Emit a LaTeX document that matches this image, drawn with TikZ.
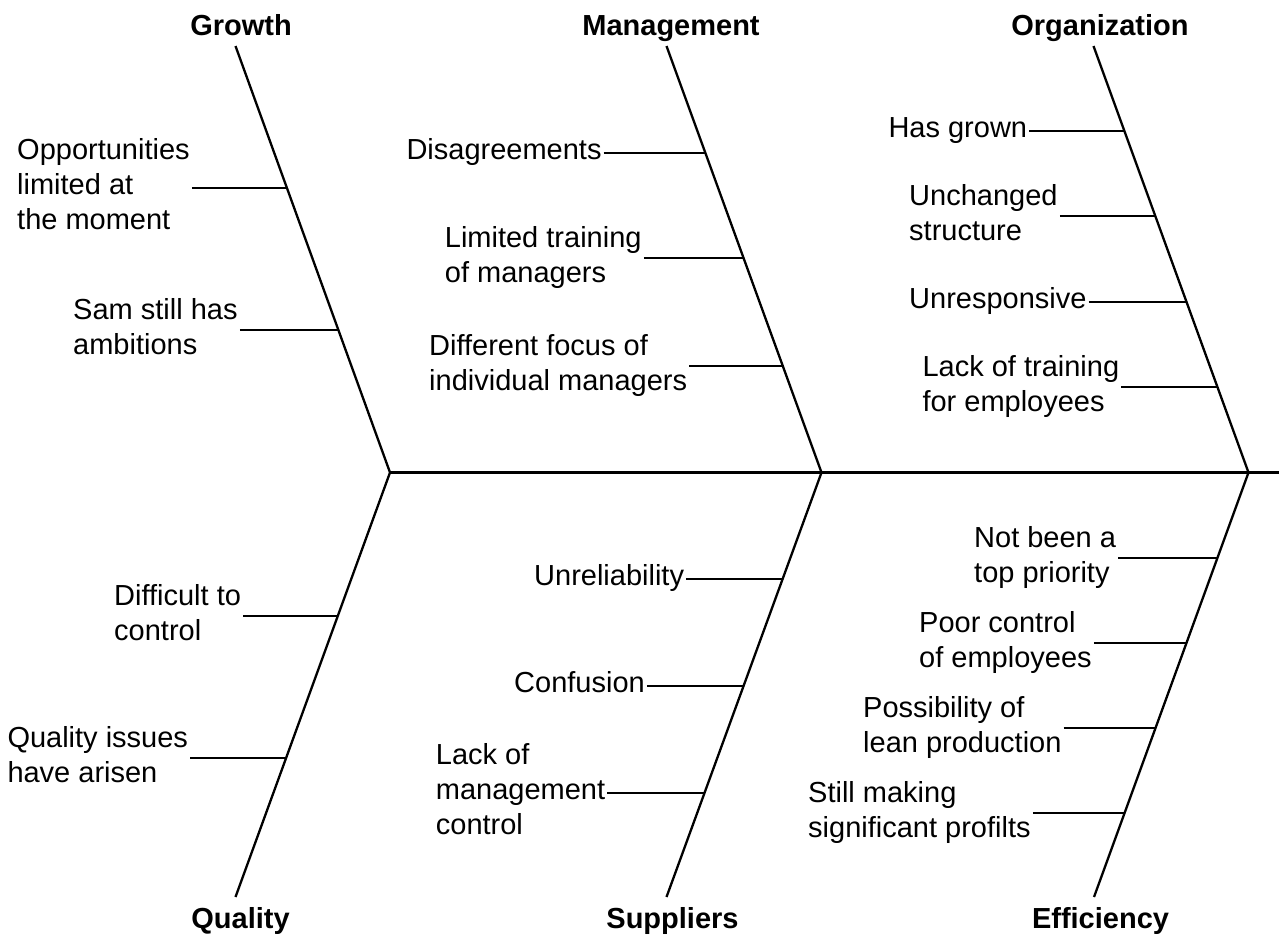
\documentclass[tikz,border=0pt]{standalone}
\usepackage{fontspec}
\setmainfont{Liberation Sans}
\begin{document}
\begin{tikzpicture}[x=1pt,y=-1pt,
  bone/.style={line width=2.3pt},
  twig/.style={line width=2.1pt},
  cause/.style={font=\fontsize{29}{34.8}\selectfont, align=left, anchor=west, inner xsep=2pt, inner ysep=0pt},
  cat/.style={font=\fontsize{29}{34.8}\selectfont\bfseries, anchor=base, inner sep=0pt}]
\useasboundingbox (0,0) rectangle (1279,935);
% category labels
\node[cat] (growth) at (241,35.5) {Growth};
\node[cat] (management) at (671,35.5) {Management};
\node[cat] (organization) at (1100,35.5) {Organization};
\node[cat] (quality) at (240.5,928) {Quality};
\node[cat] (suppliers) at (672.5,928) {Suppliers};
\node[cat] (efficiency) at (1100.5,928) {Efficiency};
% bone end points
\coordinate (gT) at (235.5,46);   \coordinate (gJ) at (390,472.5);    \coordinate (gB) at (235.5,897);
\coordinate (mT) at (666.5,46);   \coordinate (mJ) at (821.5,472.5);  \coordinate (mB) at (666.5,897);
\coordinate (oT) at (1093.5,46);  \coordinate (oJ) at (1248.5,472.5); \coordinate (oB) at (1094,897);
\coordinate (head) at (1279,472.5);
% bones and spine
\draw[bone] (gT) -- (gJ) -- (gB);
\draw[bone] (mT) -- (mJ) -- (mB);
\draw[bone] (oT) -- (oJ) -- (oB);
\draw[bone] (gJ) -- (head);
% causes: Growth
\node[cause] (tg1) at (15,187.7) {\strut Opportunities\\limited at\\the moment\strut};
\node[cause] (tg2) at (71,330) {\strut Sam still has\\ambitions\strut};
% Management
\node[cause] (tm1) at (404.3,152.7) {\strut Disagreements\strut};
\node[cause] (tm2) at (442.7,258.3) {\strut Limited training\\of managers\strut};
\node[cause] (tm3) at (427,365.7) {\strut Different focus of\\individual managers\strut};
% Organization
\node[cause] (to1) at (886.3,131) {\strut Has grown\strut};
\node[cause] (to2) at (907,216) {\strut Unchanged\\structure\strut};
\node[cause] (to3) at (907,301.7) {\strut Unresponsive\strut};
\node[cause] (to4) at (920.3,386.7) {\strut Lack of training\\for employees\strut};
% Quality
\node[cause] (tq1) at (112,615.7) {\strut Difficult to\\control\strut};
\node[cause] (tq2) at (5.3,757.7) {\strut Quality issues\\have arisen\strut};
% Suppliers
\node[cause] (ts1) at (532,579) {\strut Unreliability\strut};
\node[cause] (ts2) at (512,686) {\strut Confusion\strut};
\node[cause] (ts3) at (433.7,792.7) {\strut Lack of\\management\\control\strut};
% Efficiency
\node[cause] (te1) at (972,558.3) {\strut Not been a\\top priority\strut};
\node[cause] (te2) at (917,642.7) {\strut Poor control\\of employees\strut};
\node[cause] (te3) at (861,727.7) {\strut Possibility of\\lean production\strut};
\node[cause] (te4) at (806,813.3) {\strut Still making\\significant profilts\strut};
% points where the twigs meet the bones
\coordinate (g1) at (intersection of gT--gJ and tg1.west--tg1.east);
\coordinate (g2) at (intersection of gT--gJ and tg2.west--tg2.east);
\coordinate (m1) at (intersection of mT--mJ and tm1.west--tm1.east);
\coordinate (m2) at (intersection of mT--mJ and tm2.west--tm2.east);
\coordinate (m3) at (intersection of mT--mJ and tm3.west--tm3.east);
\coordinate (o1) at (intersection of oT--oJ and to1.west--to1.east);
\coordinate (o2) at (intersection of oT--oJ and to2.west--to2.east);
\coordinate (o3) at (intersection of oT--oJ and to3.west--to3.east);
\coordinate (o4) at (intersection of oT--oJ and to4.west--to4.east);
\coordinate (q1) at (intersection of gJ--gB and tq1.west--tq1.east);
\coordinate (q2) at (intersection of gJ--gB and tq2.west--tq2.east);
\coordinate (s1) at (intersection of mJ--mB and ts1.west--ts1.east);
\coordinate (s2) at (intersection of mJ--mB and ts2.west--ts2.east);
\coordinate (s3) at (intersection of mJ--mB and ts3.west--ts3.east);
\coordinate (e1) at (intersection of oJ--oB and te1.west--te1.east);
\coordinate (e2) at (intersection of oJ--oB and te2.west--te2.east);
\coordinate (e3) at (intersection of oJ--oB and te3.west--te3.east);
\coordinate (e4) at (intersection of oJ--oB and te4.west--te4.east);
% twigs
\foreach \t/\p in {tg1/g1,tg2/g2,tm1/m1,tm2/m2,tm3/m3,to1/o1,to2/o2,to3/o3,to4/o4,
                   tq1/q1,tq2/q2,ts1/s1,ts2/s2,ts3/s3,te1/e1,te2/e2,te3/e3,te4/e4}
  \draw[twig] (\t.east) -- (\t.east -| \p);
\end{tikzpicture}
\end{document}
